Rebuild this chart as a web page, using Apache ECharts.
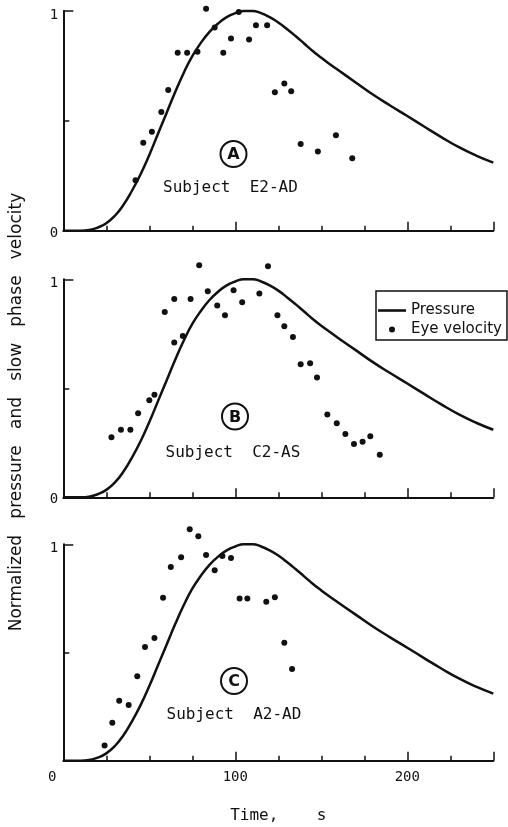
<!DOCTYPE html>
<html>
<head>
<meta charset="utf-8">
<script src="https://cdn.jsdelivr.net/npm/echarts@6/dist/echarts.min.js"></script>
<style>
  html, body { margin: 0; padding: 0; background: #fff; }
  #chart { width: 508px; height: 827px; }
</style>
</head>
<body>
<div id="chart"></div>
<script>
// normalized pressure curve, [time s, value]
const pressure = [
  [0, 0], [10, 0], [15, 0.003], [20, 0.014], [25, 0.034], [30, 0.068], [35, 0.118],
  [40, 0.183], [45, 0.258], [50, 0.345], [55, 0.44], [60, 0.535], [65, 0.63],
  [70, 0.718], [75, 0.795], [80, 0.855], [85, 0.905], [90, 0.943], [95, 0.972],
  [100, 0.99], [105, 1.0], [110, 1.0], [115, 0.99], [120, 0.972], [125, 0.948],
  [130, 0.918], [135, 0.886], [140, 0.852], [145, 0.818], [150, 0.787], [155, 0.758],
  [160, 0.73], [170, 0.675], [180, 0.62], [190, 0.57], [200, 0.522], [210, 0.473],
  [220, 0.425], [230, 0.38], [240, 0.342], [250, 0.31]
];

// eye velocity, subject E2-AD
const eyeA = [
  [42, 0.23], [46.5, 0.40], [51.5, 0.45], [57, 0.54], [61, 0.64], [66.5, 0.81],
  [72, 0.81], [78, 0.815], [83, 1.01], [88, 0.925], [93, 0.81], [97.5, 0.875],
  [102, 0.995], [108, 0.87], [112, 0.935], [118.5, 0.935], [123, 0.63], [128.5, 0.67],
  [132.5, 0.635], [138, 0.395], [148, 0.36], [158.5, 0.435], [168, 0.33]
];

// eye velocity, subject C2-AS
const eyeB = [
  [28, 0.275], [33.5, 0.31], [39, 0.31], [43.5, 0.385], [50, 0.445], [53, 0.47],
  [59, 0.85], [64.5, 0.91], [64.5, 0.71], [69.5, 0.74], [74, 0.91], [79, 1.065],
  [84, 0.945], [89.5, 0.88], [94, 0.835], [99, 0.95], [104, 0.895], [114, 0.935],
  [119, 1.06], [124.5, 0.835], [128.5, 0.785], [133.5, 0.735], [138, 0.61],
  [143.5, 0.615], [147.5, 0.55], [153.5, 0.38], [159, 0.34], [164, 0.29],
  [169, 0.245], [174, 0.255], [178.5, 0.28], [184, 0.195]
];

// eye velocity, subject A2-AD
const eyeC = [
  [24, 0.07], [28.5, 0.175], [32.5, 0.277], [38, 0.257], [43, 0.39], [47.5, 0.525],
  [53, 0.567], [58, 0.753], [62.5, 0.895], [68.5, 0.94], [73.5, 1.07], [78.5, 1.037],
  [83, 0.95], [88, 0.88], [92.5, 0.946], [97.5, 0.937], [102.5, 0.75], [107, 0.75],
  [118, 0.735], [123, 0.755], [128.5, 0.545], [133, 0.424]
];

const panels = [eyeA, eyeB, eyeC];
const subjects = ['Subject  E2-AD', 'Subject  C2-AS', 'Subject  A2-AD'];
const letters = ['A', 'B', 'C'];

const ink = '#111';
const font = 'DejaVu Sans';
const mono = 'DejaVu Sans Mono';

// grid placement of the three panels
const grids = [
  { left: 63.3, right: 14.7, top: 11, height: 219.7 },
  { left: 63.3, right: 14.7, top: 279.3, height: 218 },
  { left: 63.3, right: 14.7, top: 544.3, height: 216.4 }
];
const circlePos = [[233.5, 154], [235, 416.5], [234, 681]];
const subjectPos = [[163, 187.5], [165.5, 452.5], [166.5, 715]];

const xAxis = [];
const yAxis = [];
for (let i = 0; i < 3; i++) {
  xAxis.push({
    type: 'value', gridIndex: i, min: 0, max: 250, interval: 25, position: 'bottom',
    axisLine: { lineStyle: { color: ink, width: 2 } },
    axisTick: { inside: true, length: 5, lineStyle: { color: ink, width: 1.5 } },
    axisLabel: {
      show: i === 2, margin: 10, color: ink, fontFamily: mono, fontSize: 14,
      formatter: v => v === 0 ? '{z|0}' : (v % 100 === 0 ? String(v) : ''),
      rich: { z: { padding: [0, 22, 0, 0], fontFamily: mono, fontSize: 14, color: ink } }
    },
    splitLine: { show: false },
    name: i === 2 ? 'Time,    s' : '',
    nameLocation: 'middle', nameGap: 47,
    nameTextStyle: { color: ink, fontFamily: mono, fontSize: 16 }
  });
  yAxis.push({
    type: 'value', gridIndex: i, min: 0, max: 1, interval: 1, position: 'left',
    axisLine: { show: true, lineStyle: { color: ink, width: 2 } },
    axisTick: { show: true, inside: true, length: 10, lineStyle: { color: ink, width: 1.5 } },
    axisLabel: {
      margin: 5, color: ink, fontFamily: mono, fontSize: 14,
      formatter: v => (i === 2 && v === 0) ? '' : (v === 1 ? '{one|1}' : '{zero|0}'),
      rich: {
        one: { padding: [9, 0, 0, 0], fontFamily: mono, fontSize: 14, color: ink },
        zero: { padding: [5, 0, 0, 0], fontFamily: mono, fontSize: 14, color: ink }
      }
    },
    splitLine: { show: false }
  });
}
for (let i = 0; i < 3; i++) {
  xAxis.push({
    type: 'value', gridIndex: i, min: 0, max: 250, interval: 100, position: 'bottom',
    axisLine: { show: false },
    axisTick: { inside: true, length: 9, lineStyle: { color: ink, width: 1.5 } },
    axisLabel: { show: false }, splitLine: { show: false }
  });
  yAxis.push({
    type: 'value', gridIndex: i, min: 0, max: 1, interval: 0.5, position: 'left',
    axisLine: { show: false },
    axisTick: { show: true, inside: true, length: 6, lineStyle: { color: ink, width: 1.5 } },
    axisLabel: { show: false }, splitLine: { show: false }
  });
}

const series = [];
panels.forEach((eye, i) => {
  series.push({
    name: 'Pressure', type: 'line', xAxisIndex: i, yAxisIndex: i,
    data: pressure, smooth: true, symbol: 'none', clip: false,
    lineStyle: { color: ink, width: 2.5 }, itemStyle: { color: ink },
    silent: true, animation: false
  });
  series.push({
    name: 'Eye velocity', type: 'scatter', xAxisIndex: i, yAxisIndex: i,
    data: eye, symbol: 'circle', symbolSize: 6, clip: false,
    itemStyle: { color: ink, opacity: 1 }, animation: false
  });
});

const graphic = [{
  type: 'text', x: 17, y: 412, rotation: Math.PI / 2,
  style: {
    text: 'Normalized   pressure   and   slow   phase   velocity',
    font: '17px ' + font, fill: ink, textAlign: 'center', textVerticalAlign: 'middle'
  }
}];
letters.forEach((l, i) => {
  graphic.push({
    type: 'circle', shape: { cx: circlePos[i][0], cy: circlePos[i][1], r: 13 },
    style: { fill: 'none', stroke: ink, lineWidth: 2 }
  });
  graphic.push({
    type: 'text', x: circlePos[i][0], y: circlePos[i][1] + 1,
    style: { text: l, font: 'bold 16px ' + font, fill: ink, textAlign: 'center', textVerticalAlign: 'middle' }
  });
  graphic.push({
    type: 'text', x: subjectPos[i][0], y: subjectPos[i][1],
    style: { text: subjects[i], font: '16px ' + mono, fill: ink, textAlign: 'left', textVerticalAlign: 'middle' }
  });
});

const chart = echarts.init(document.getElementById('chart'), null, { renderer: 'canvas' });
chart.setOption({
  backgroundColor: '#fff',
  animation: false,
  textStyle: { fontFamily: font, color: ink },
  grid: grids,
  xAxis: xAxis,
  yAxis: yAxis,
  legend: {
    orient: 'vertical', left: 376, top: 291,
    padding: [12, 5, 3, 2], itemWidth: 28, itemHeight: 6, itemGap: 4,
    borderColor: ink, borderWidth: 1.5,
    textStyle: { color: ink, fontFamily: font, fontSize: 15 },
    data: [
      { name: 'Pressure', icon: 'path://M0,0H28V2.6H0Z' },
      { name: 'Eye velocity', icon: 'circle' }
    ],
    selectedMode: false
  },
  graphic: graphic,
  series: series
});
</script>
</body>
</html>
